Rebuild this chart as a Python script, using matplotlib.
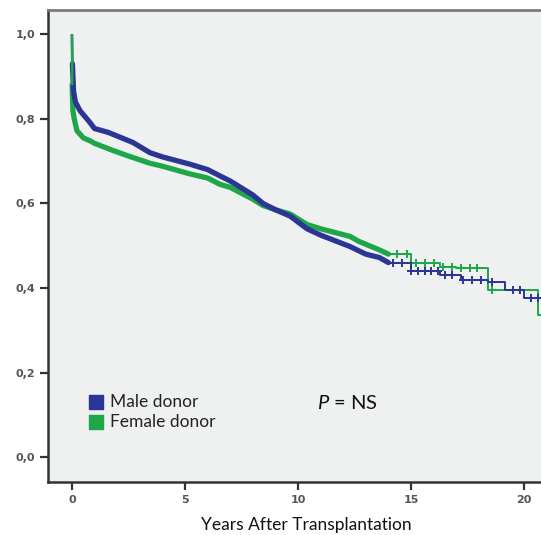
import matplotlib
matplotlib.use("Agg")
import matplotlib.pyplot as plt
import numpy as np

plt.rcParams["mathtext.fontset"] = "custom"
plt.rcParams["mathtext.it"] = "Lato:italic"
plt.rcParams["mathtext.rm"] = "Lato"

# Kaplan-Meier estimates (years, survival)
male_t = [0, 0.02, 0.07, 0.15, 0.36, 0.74, 1.0, 1.6, 2.2, 2.7, 3.45, 4.0, 5.2, 6.0, 6.55, 7.0,
          8.0, 8.45, 9.0, 9.65, 10.4, 11.0, 12.3, 13.0, 13.6, 14.0, 15.0, 16.3, 17.2, 18.4,
          19.15, 20.0, 20.75]
male_s = [1.0, 0.93, 0.866, 0.84, 0.819, 0.795, 0.777, 0.768, 0.755, 0.744, 0.72, 0.71, 0.693,
          0.68, 0.665, 0.653, 0.62, 0.60, 0.585, 0.57, 0.54, 0.525, 0.498, 0.48, 0.472, 0.46,
          0.44, 0.431, 0.42, 0.415, 0.395, 0.376, 0.376]
female_t = [0, 0.01, 0.04, 0.1, 0.22, 0.5, 0.8, 1.0, 1.77, 2.5, 3.45, 4.0, 5.2, 6.0, 6.55, 7.0,
            8.0, 8.45, 9.0, 9.65, 10.4, 11.0, 12.3, 12.7, 13.6, 14.0, 15.0, 16.3, 17.0, 18.4,
            20.6, 20.75]
female_s = [1.0, 0.88, 0.82, 0.80, 0.772, 0.755, 0.748, 0.742, 0.726, 0.712, 0.695, 0.688, 0.67,
            0.66, 0.645, 0.638, 0.61, 0.595, 0.585, 0.575, 0.55, 0.54, 0.522, 0.51, 0.49, 0.48,
            0.458, 0.45, 0.447, 0.395, 0.335, 0.335]

# censoring marks visible on the later, sparser part of the curves
male_cens = [14.2, 14.6, 15.0, 15.3, 15.6, 15.9, 16.2, 16.5, 16.8, 17.3, 17.7, 18.1, 18.6,
             19.5, 19.8, 20.3, 20.6]
female_cens = [14.4, 14.8, 15.2, 15.6, 16.0, 16.4, 16.8, 17.2, 17.6, 17.9, 18.6]

labels = ["Male donor", "Female donor"]
colors = ["#2a3595", "#1ea64a"]

xticks = [0, 5, 10, 15, 20]
yticks = [0.0, 0.2, 0.4, 0.6, 0.8, 1.0]
ytick_labels = ["0,0", "0,2", "0,4", "0,6", "0,8", "1,0"]

SPLIT = 14.0  # beyond this the steps become individually visible

fig = plt.figure(figsize=(5.41, 5.35), dpi=100)
ax = fig.add_axes([0.0887, 0.099, 0.9113, 0.882])
ax.set_facecolor("#eff0f0")

def step_val(ts, ss, x):
    idx = np.searchsorted(ts, x, side="right") - 1
    return ss[max(idx, 0)]

series = [(female_t, female_s, female_cens, colors[1]),
          (male_t, male_s, male_cens, colors[0])]
for t, s, cens, c in series:
    t_arr = np.array(t); s_arr = np.array(s)
    early = t_arr <= SPLIT
    late = t_arr >= SPLIT
    ax.plot(t_arr[early][1:], s_arr[early][1:], color=c, lw=3.8, zorder=3,
            solid_joinstyle="round", solid_capstyle="round")
    ax.plot(t_arr[late], s_arr[late], color=c, lw=1.4, zorder=3, drawstyle="steps-post")
    ys = [step_val(t, s, x) for x in cens]
    ax.plot(cens, ys, ls="none", marker="+", ms=6, mew=1.4, color=c, zorder=4)

# initial vertical drop at t=0 (female line visible on top there)
for t, s, c in [(male_t, male_s, colors[0]), (female_t, female_s, colors[1])]:
    ax.plot(t[:2], s[:2], color=c, lw=1.8, zorder=5, solid_capstyle="butt")

ax.set_xlim(-1.06, 20.75)
ax.set_ylim(-0.059, 1.057)

ax.set_xticks(xticks)
ax.set_xticklabels([str(v) for v in xticks])
ax.set_yticks(yticks)
ax.set_yticklabels(ytick_labels)
ax.tick_params(axis="both", direction="out", length=6, width=1.6, color="#333333",
               labelsize=8, labelcolor="#555555", pad=3)
for lab in ax.get_xticklabels() + ax.get_yticklabels():
    lab.set_fontweight("bold")

for side in ["left", "bottom"]:
    ax.spines[side].set_color("#333333")
    ax.spines[side].set_linewidth(1.8)
ax.spines["top"].set_color("#7a7a7a")
ax.spines["top"].set_linewidth(2.0)
ax.spines["right"].set_visible(False)

ax.set_xlabel("Years After Transplantation", family="Lato", fontsize=12.5, color="#111111")
ax.xaxis.set_label_coords(0.523, -0.074)

# legend
for i, (lab, c) in enumerate(zip(labels, colors)):
    y = 0.17 - i * 0.043
    ax.scatter([0.097], [y], transform=ax.transAxes, marker="s", s=100, color=c, zorder=5)
    ax.text(0.125, y, lab, transform=ax.transAxes, family="Lato", fontsize=12.5,
            color="#222222", va="center", ha="left")

ax.text(0.608, 0.168, r"$\it{P}$ = NS", transform=ax.transAxes, family="Lato", fontsize=14.5,
        color="#111111", va="center", ha="center")

fig.savefig("out.png", dpi=100, facecolor="white")
